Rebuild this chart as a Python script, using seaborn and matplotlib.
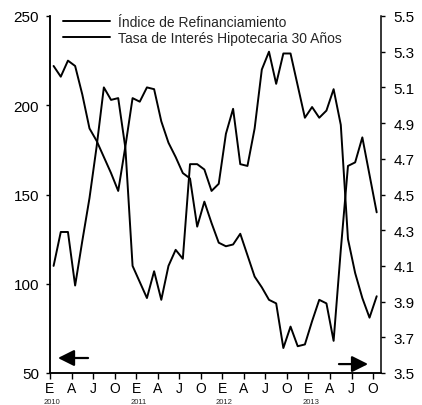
"""Índice de refinanciamiento vs tasa hipotecaria a 30 años, 2010-2013."""
import numpy as np
import pandas as pd
import matplotlib
matplotlib.use("Agg")
import matplotlib.pyplot as plt
import matplotlib.transforms as mtransforms
import seaborn as sns

months = ["E", "A", "J", "O"]
years = ["2010", "2011", "2012", "2013"]
label_refi = "Índice de Refinanciamiento"
label_rate = "Tasa de Interés Hipotecaria 30 Años"

# monthly values, Jan 2010 - Oct 2013
refi_index = [110, 129, 129, 99, 124, 148, 177, 210, 203, 204, 176, 110,
              101, 92, 107, 91, 110, 119, 114, 167, 167, 164, 152, 156,
              184, 198, 167, 166, 187, 220, 230, 212, 229, 229, 211, 193,
              199, 193, 197, 209, 189, 125, 106, 92, 81, 93]
mortgage_rate = [5.22, 5.16, 5.25, 5.22, 5.06, 4.87, 4.80, 4.71, 4.62, 4.52, 4.77, 5.04,
                 5.02, 5.10, 5.09, 4.91, 4.79, 4.71, 4.62, 4.59, 4.32, 4.46, 4.34, 4.23,
                 4.21, 4.22, 4.28, 4.16, 4.04, 3.98, 3.91, 3.89, 3.64, 3.76, 3.65, 3.66,
                 3.79, 3.91, 3.89, 3.68, 4.19, 4.66, 4.68, 4.82, 4.61, 4.40]

df = pd.DataFrame({
    "mes": np.arange(len(refi_index)) + 0.5,
    "refi": refi_index,
    "tasa": mortgage_rate,
})

sns.set_style("ticks")
plt.rcParams["font.family"] = ["Liberation Sans", "DejaVu Sans"]
plt.rcParams["axes.edgecolor"] = "black"
plt.rcParams["axes.linewidth"] = 1.1

fig = plt.figure(figsize=(4.22, 4.06), dpi=100)
ax = fig.add_axes([50 / 422, 32 / 406, 331 / 422, 357 / 406])
ax2 = ax.twinx()

sns.lineplot(data=df, x="mes", y="refi", ax=ax, color="black", lw=1.4, label=label_refi)
sns.lineplot(data=df, x="mes", y="tasa", ax=ax2, color="black", lw=1.4, label=label_rate)
ax.get_legend().remove()
ax2.get_legend().remove()

ax.set_xlim(0, 46.1)
ax.set_xticks(np.arange(0, 46, 3))
ax.set_xticklabels(months * len(years))
ax.set_ylim(50, 250)
ax.set_yticks(np.arange(50, 251, 50))
ax2.set_ylim(3.5, 5.5)
ax2.set_yticks(np.round(np.arange(3.5, 5.51, 0.2), 1))
ax2.set_yticklabels([f"{v:.1f}" for v in np.arange(3.5, 5.51, 0.2)])
for a in (ax, ax2):
    a.set_xlabel("")
    a.set_ylabel("")
    a.spines["top"].set_visible(False)
ax.spines["right"].set_visible(False)

ax.tick_params(axis="y", direction="out", length=3, width=1, labelsize=11, pad=5, colors="black")
ax2.tick_params(axis="y", direction="out", length=3, width=1, labelsize=11, pad=6, colors="black")
ax.tick_params(axis="x", direction="out", length=4, width=1, labelsize=10, pad=2, colors="black")

# year labels under the month letters (small so they stay inside the figure)
trans = mtransforms.blended_transform_factory(ax.transData, fig.transFigure)
for k, yr in enumerate(years):
    ax.text(k * 12 + 0.3, 0, yr, transform=trans, ha="center", va="bottom",
            fontsize=5.5, clip_on=False)

# arrows telling which axis each series uses
arrow = dict(arrowstyle="-|>,head_length=0.7,head_width=0.35", color="black", lw=1.6,
             mutation_scale=14, shrinkA=0, shrinkB=0)
ax.annotate("", xy=(0.024, 0.042), xytext=(0.115, 0.042), xycoords="axes fraction", arrowprops=arrow)
ax.annotate("", xy=(0.961, 0.025), xytext=(0.873, 0.025), xycoords="axes fraction", arrowprops=arrow)

handles = ax.get_lines()[:1] + ax2.get_lines()[:1]
ax2.legend(handles, [label_refi, label_rate], loc="upper left", bbox_to_anchor=(0.039, 1.004),
           frameon=False, fontsize=10, handlelength=3.4, handletextpad=0.6,
           labelspacing=0.15, borderpad=0, borderaxespad=0)

fig.savefig("out.png", dpi=100)
